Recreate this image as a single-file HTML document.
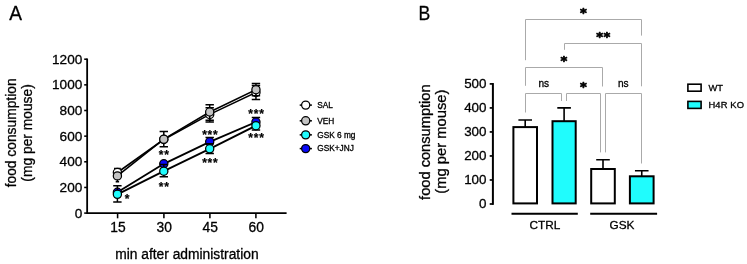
<!DOCTYPE html>
<html lang="en">
<head>
<meta charset="utf-8">
<title>Figure: food consumption</title>
<style>
html,body{margin:0;padding:0;background:#fff;}
body{width:747px;height:264px;overflow:hidden;font-family:"Liberation Sans",Arial,Helvetica,sans-serif;}
svg{display:block;}
text{stroke:#000;stroke-width:0.3px;stroke-linejoin:round;}
.bs text{stroke-width:0.75px;}
.sa text{stroke-width:0.2px;}
</style>
</head>
<body>
<svg width="747" height="264" viewBox="0 0 747 264" font-family="'Liberation Sans', Arial, Helvetica, sans-serif" fill="#000" stroke="none">
<rect width="747" height="264" fill="#fff"/>
<text transform="translate(9.2 19.7) scale(0.955 1)" font-size="20">A</text>
<text transform="translate(418.5 19.7) scale(0.88 1)" font-size="20">B</text>
<g stroke="#000" stroke-width="1.8" fill="none" stroke-linecap="butt">
<path d="M87.15 58.45V213.1H286.6"/>
</g>
<g stroke="#000" stroke-width="1.55" fill="none">
<path d="M84.2 213.10H87.15"/>
<path d="M84.2 187.45H87.15"/>
<path d="M84.2 161.80H87.15"/>
<path d="M84.2 136.15H87.15"/>
<path d="M84.2 110.50H87.15"/>
<path d="M84.2 84.85H87.15"/>
<path d="M84.2 59.20H87.15"/>
<path d="M117.6 213.1V218.29999999999998"/>
<path d="M163.9 213.1V218.29999999999998"/>
<path d="M209.9 213.1V218.29999999999998"/>
<path d="M255.9 213.1V218.29999999999998"/>
</g>
<g font-size="13.6" text-anchor="end">
<text x="82.3" y="217.60">0</text>
<text x="82.3" y="191.95">200</text>
<text x="82.3" y="166.30">400</text>
<text x="82.3" y="140.65">600</text>
<text x="82.3" y="115.00">800</text>
<text x="82.3" y="89.35">1000</text>
<text x="82.3" y="63.70">1200</text>
</g>
<g font-size="13.8" text-anchor="middle">
<text x="117.89999999999999" y="231.6">15</text>
<text x="164.20000000000002" y="231.6">30</text>
<text x="210.20000000000002" y="231.6">45</text>
<text x="256.2" y="231.6">60</text>
<text x="186.9" y="258.9">min after administration</text>
</g>
<g font-size="13.8" text-anchor="middle">
<text transform="translate(15.7 132.9) rotate(-90)">food consumption</text>
<text transform="translate(31.8 132.95) rotate(-90)">(mg per mouse)</text>
</g>
<g stroke="#000" fill="none">
<path d="M117.4 172.5 L163.8 139.5 L209.7 114.4 L255.95 92.5" stroke-width="1.55" stroke-linejoin="round"/>
<path d="M117.4 168.60V176.40M114.0 168.60H120.80000000000001M114.0 176.40H120.80000000000001M209.7 107.70V122.10M205.5 107.70H213.89999999999998M205.5 122.10H213.89999999999998M255.95 85.60V99.50M251.75 85.60H260.15M251.75 99.50H260.15" stroke-width="1.5"/>
<circle cx="117.4" cy="172.5" r="4.1" fill="#ffffff" stroke-width="1.25"/>
<circle cx="163.8" cy="139.5" r="4.1" fill="#ffffff" stroke-width="1.25"/>
<circle cx="209.7" cy="114.4" r="4.1" fill="#ffffff" stroke-width="1.25"/>
<circle cx="255.95" cy="92.5" r="4.1" fill="#ffffff" stroke-width="1.25"/>
</g>
<g stroke="#000" fill="none">
<path d="M117.4 175.9 L163.8 139.2 L209.7 112.0 L255.95 89.7" stroke-width="1.55" stroke-linejoin="round"/>
<path d="M117.4 175.90V181.70M115.7 181.70H119.10000000000001M163.8 131.50V146.70M159.60000000000002 131.50H168.0M159.60000000000002 146.70H168.0M209.7 104.70V120.20M205.5 104.70H213.89999999999998M205.5 120.20H213.89999999999998M255.95 83.60V95.70M251.75 83.60H260.15M251.75 95.70H260.15" stroke-width="1.5"/>
<circle cx="117.4" cy="175.9" r="4.1" fill="#c3c3c3" stroke-width="1.25"/>
<circle cx="163.8" cy="139.2" r="4.1" fill="#c3c3c3" stroke-width="1.25"/>
<circle cx="209.7" cy="112.0" r="4.1" fill="#c3c3c3" stroke-width="1.25"/>
<circle cx="255.95" cy="89.7" r="4.1" fill="#c3c3c3" stroke-width="1.25"/>
</g>
<g stroke="#000" fill="none">
<path d="M117.4 192.3 L163.8 163.8 L209.7 141.8 L255.95 122.0" stroke-width="1.85" stroke-linejoin="round"/>
<path d="M209.7 137.40V141.80M205.5 137.40H213.89999999999998M255.95 117.60V122.00M251.75 117.60H260.15" stroke-width="1.5"/>
<circle cx="117.4" cy="192.3" r="4.1" fill="#0808f8" stroke-width="1.25"/>
<circle cx="163.8" cy="163.8" r="4.1" fill="#0808f8" stroke-width="1.25"/>
<circle cx="209.7" cy="141.8" r="4.1" fill="#0808f8" stroke-width="1.25"/>
<circle cx="255.95" cy="122.0" r="4.1" fill="#0808f8" stroke-width="1.25"/>
</g>
<g stroke="#000" fill="none">
<path d="M117.4 194.3 L163.8 171.2 L209.7 148.8 L255.95 125.7" stroke-width="1.85" stroke-linejoin="round"/>
<path d="M117.4 185.80V201.90M113.2 185.80H121.60000000000001M113.2 201.90H121.60000000000001M163.8 164.60V176.80M159.60000000000002 164.60H168.0M159.60000000000002 176.80H168.0M209.7 143.70V153.60M205.5 143.70H213.89999999999998M205.5 153.60H213.89999999999998M255.95 125.70V130.10M251.75 130.10H260.15" stroke-width="1.5"/>
<circle cx="117.4" cy="194.3" r="4.1" fill="#20fcfd" stroke-width="1.25"/>
<circle cx="163.8" cy="171.2" r="4.1" fill="#20fcfd" stroke-width="1.25"/>
<circle cx="209.7" cy="148.8" r="4.1" fill="#20fcfd" stroke-width="1.25"/>
<circle cx="255.95" cy="125.7" r="4.1" fill="#20fcfd" stroke-width="1.25"/>
</g>
<g class="sa" font-size="12" font-weight="bold" text-anchor="middle" letter-spacing="0.73">
<text x="127.47" y="203.15">*</text>
<text x="164.27" y="159.05">**</text>
<text x="164.27" y="191.25">**</text>
<text x="210.27" y="138.75">***</text>
<text x="210.27" y="167.25">***</text>
<text x="256.47" y="118.35">***</text>
<text x="256.47" y="142.25">***</text>
</g>
<g font-size="8.3">
<path d="M299.7 105.1H311.9" stroke="#000" stroke-width="1.5"/>
<circle cx="305.7" cy="105.1" r="4.1" fill="#ffffff" stroke="#000" stroke-width="1.25"/>
<text x="317.2" y="107.8">SAL</text>
<path d="M299.7 120.8H311.9" stroke="#000" stroke-width="1.5"/>
<circle cx="305.7" cy="120.8" r="4.1" fill="#c3c3c3" stroke="#000" stroke-width="1.25"/>
<text x="317.2" y="123.5">VEH</text>
<path d="M299.7 134.85H311.9" stroke="#000" stroke-width="1.5"/>
<circle cx="305.7" cy="134.85" r="4.1" fill="#20fcfd" stroke="#000" stroke-width="1.25"/>
<text x="317.2" y="137.5">GSK 6 mg</text>
<path d="M299.7 148.6H311.9" stroke="#000" stroke-width="1.5"/>
<circle cx="305.7" cy="148.6" r="4.1" fill="#0808f8" stroke="#000" stroke-width="1.25"/>
<text x="317.2" y="151.3">GSK+JNJ</text>
</g>
<g stroke="#000" stroke-width="2" fill="none">
<path d="M492.9 83.05000000000001V204.85"/>
<path d="M511.5 213.7H577.8M590.2 213.7H657.1"/>
</g>
<g stroke="#000" stroke-width="1.7" fill="none">
<path d="M489.7 204.00H492.9"/>
<path d="M489.7 179.98H492.9"/>
<path d="M489.7 155.96H492.9"/>
<path d="M489.7 131.94H492.9"/>
<path d="M489.7 107.92H492.9"/>
<path d="M489.7 83.90H492.9"/>
</g>
<g font-size="13.4" text-anchor="end">
<text x="486.5" y="208.40">0</text>
<text x="486.5" y="184.38">100</text>
<text x="486.5" y="160.36">200</text>
<text x="486.5" y="136.34">300</text>
<text x="486.5" y="112.32">400</text>
<text x="486.5" y="88.30">500</text>
</g>
<g font-size="14.65" text-anchor="middle">
<text transform="translate(430.2 142.15) rotate(-90)">food consumption</text>
<text transform="translate(446.1 141.65) rotate(-90)" font-size="14.78">(mg per mouse)</text>
</g>
<g font-size="11.8" text-anchor="middle">
<text x="545" y="228.5">CTRL</text>
<text x="622" y="228.5">GSK</text>
</g>
<g stroke="#000" fill="none">
<path d="M525.20 127.1V120.0M518.40 120.0H532.00" stroke-width="1.6"/>
<rect x="513.40" y="127.10" width="23.60" height="76.30" fill="#ffffff" stroke-width="2"/>
<path d="M564.10 121.2V107.9M557.30 107.9H570.90" stroke-width="1.6"/>
<rect x="552.50" y="121.20" width="23.20" height="82.20" fill="#20fcfd" stroke-width="2"/>
<path d="M603.00 169.0V159.8M596.20 159.8H609.80" stroke-width="1.6"/>
<rect x="591.20" y="169.00" width="23.60" height="34.40" fill="#ffffff" stroke-width="2"/>
<path d="M641.75 176.3V170.8M634.95 170.8H648.55" stroke-width="1.6"/>
<rect x="629.90" y="176.30" width="23.70" height="27.10" fill="#20fcfd" stroke-width="2"/>
</g>
<g stroke="#aaaaaa" stroke-width="1" fill="none">
<path d="M525.5 60.2V19.5H641.5V35.6"/>
<path d="M564.5 49.8V43.5H641.5V86.3"/>
<path d="M525.5 85.8V67.5H602.5V86.5"/>
<path d="M525.5 112.5V93.5H561.5V101"/>
<path d="M566.5 101V93.5H600.5V152.4"/>
<path d="M605.5 152.4V93.5H641.5V163.5"/>
</g>
<g class="bs" font-family="'DejaVu Sans', sans-serif" font-weight="bold" font-size="13" text-anchor="middle" letter-spacing="0.4">
<text x="583.7" y="16.50">*</text>
<text x="603.4000000000001" y="41.10">**</text>
<text x="564.2" y="65.20">*</text>
<text x="583.6" y="91.20">*</text>
</g>
<g font-size="10.1" text-anchor="middle">
<text x="543.8" y="87.4">ns</text>
<text x="623.3" y="87.4">ns</text>
</g>
<g stroke="#000" stroke-width="1.6">
<rect x="687.9" y="84.2" width="13.2" height="7.0" fill="#fff"/>
<rect x="687.9" y="101.4" width="13.2" height="7.0" fill="#20fcfd"/>
</g>
<g font-size="9.4">
<text x="708.4" y="91.1">WT</text>
<text x="708.4" y="107.9" letter-spacing="0.15">H4R KO</text>
</g>
</svg>
</body>
</html>
